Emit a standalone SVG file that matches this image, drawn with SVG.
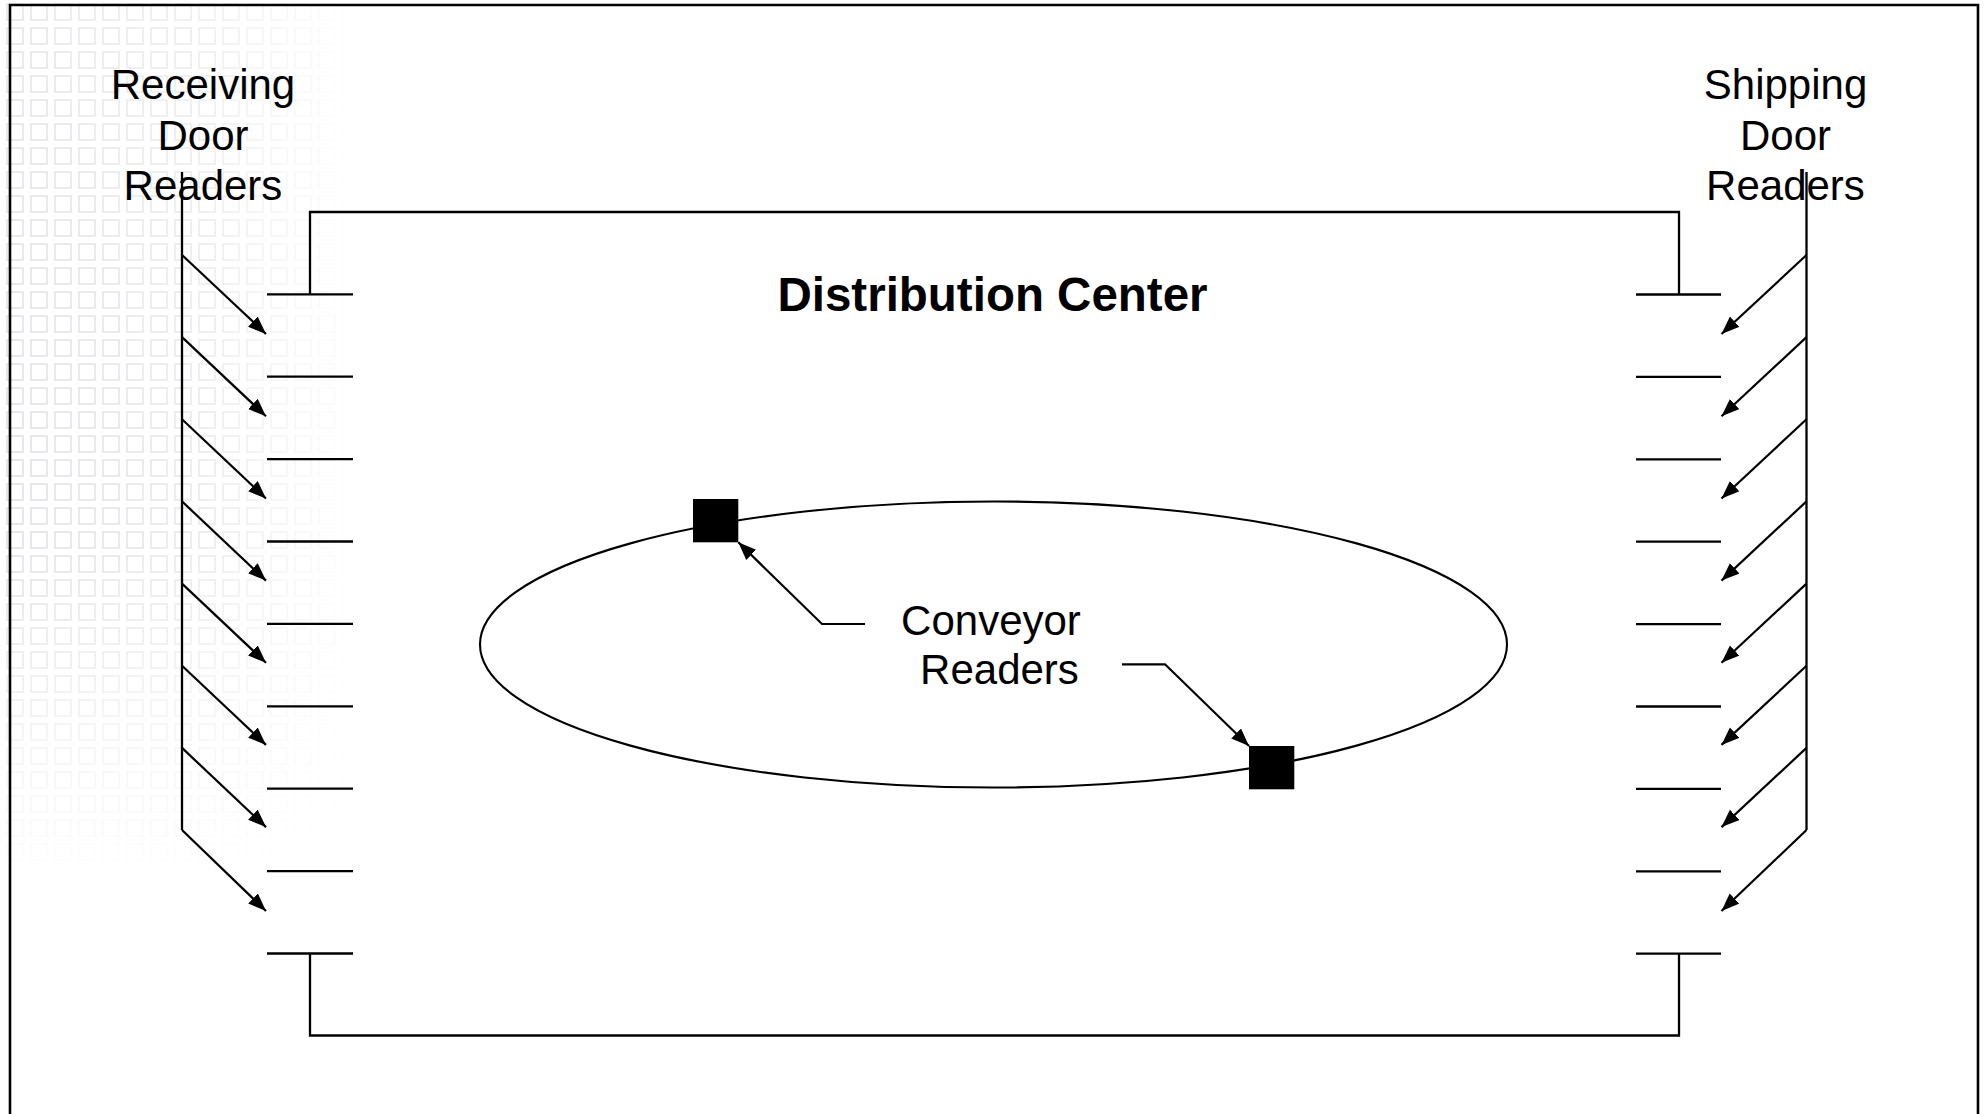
<svg xmlns="http://www.w3.org/2000/svg" width="1986" height="1114" viewBox="0 0 1986 1114">
  <style>
    .ln { fill: none; stroke: #000; stroke-width: 2.3; }
    .frame { fill: none; stroke: #000; stroke-width: 2.6; }
    .arr { fill: none; stroke: #000; stroke-width: 2.2; marker-end: url(#head); }
    .lbl { font-family: "Liberation Sans", Arial, sans-serif; font-size: 42px; fill: #000; text-anchor: middle; }
    .title { font-family: "Liberation Sans", Arial, sans-serif; font-size: 47.5px; font-weight: bold; fill: #000; text-anchor: middle; }
    .rdr { fill: #000; }
  </style>
  <defs>
    <marker id="head" markerUnits="userSpaceOnUse" markerWidth="20" markerHeight="16" refX="18" refY="7" orient="auto">
      <path d="M0,0 L18,7 L0,14 Z" fill="#000"/>
    </marker>
    <pattern id="tiles" x="0" y="0" width="24" height="24" patternUnits="userSpaceOnUse">
      <rect x="7" y="4" width="16" height="16" fill="none" stroke="#b4bac4" stroke-width="1.3"/>
    </pattern>
    <linearGradient id="fadeX" x1="0" y1="0" x2="1" y2="0">
      <stop offset="0" stop-color="#fff" stop-opacity="1"/>
      <stop offset="0.55" stop-color="#fff" stop-opacity="0.7"/>
      <stop offset="1" stop-color="#fff" stop-opacity="0"/>
    </linearGradient>
    <linearGradient id="fadeY" x1="0" y1="0" x2="0" y2="1">
      <stop offset="0" stop-color="#fff" stop-opacity="0.8"/>
      <stop offset="0.6" stop-color="#fff" stop-opacity="1"/>
      <stop offset="1" stop-color="#fff" stop-opacity="0"/>
    </linearGradient>
    <mask id="maskX" maskUnits="userSpaceOnUse" x="0" y="0" width="1986" height="1114">
      <rect x="0" y="0" width="360" height="900" fill="url(#fadeX)"/>
    </mask>
    <mask id="maskY" maskUnits="userSpaceOnUse" x="0" y="0" width="1986" height="1114">
      <rect x="0" y="0" width="360" height="890" fill="url(#fadeY)"/>
    </mask>
  </defs>

  <!-- page background with faint tile texture in the upper left -->
  <rect x="0" y="0" width="1986" height="1114" fill="#fff"/>
  <g id="texture" opacity="0.55" mask="url(#maskY)">
    <g mask="url(#maskX)">
      <rect x="0" y="0" width="360" height="890" fill="url(#tiles)"/>
    </g>
  </g>

  <!-- outer slide frame -->
  <path id="frame" class="frame" d="M10,1120 V5 H1978 V1120"/>

  <!-- building outline with dock doors -->
  <g id="building">
    <path class="ln" d="M310,294.3 V212 H1679 V294.3"/>
    <path class="ln" d="M310,953.5 V1035.5 H1679 V953.5"/>
  </g>

  <g id="receiving-doors" class="ln">
    <line x1="267" y1="294.3" x2="353" y2="294.3"/>
    <line x1="267" y1="376.7" x2="353" y2="376.7"/>
    <line x1="267" y1="459.1" x2="353" y2="459.1"/>
    <line x1="267" y1="541.5" x2="353" y2="541.5"/>
    <line x1="267" y1="623.9" x2="353" y2="623.9"/>
    <line x1="267" y1="706.3" x2="353" y2="706.3"/>
    <line x1="267" y1="788.7" x2="353" y2="788.7"/>
    <line x1="267" y1="871.1" x2="353" y2="871.1"/>
    <line x1="267" y1="953.5" x2="353" y2="953.5"/>
  </g>

  <g id="shipping-doors" class="ln">
    <line x1="1636" y1="294.5" x2="1721" y2="294.5"/>
    <line x1="1636" y1="376.9" x2="1721" y2="376.9"/>
    <line x1="1636" y1="459.3" x2="1721" y2="459.3"/>
    <line x1="1636" y1="541.7" x2="1721" y2="541.7"/>
    <line x1="1636" y1="624.1" x2="1721" y2="624.1"/>
    <line x1="1636" y1="706.5" x2="1721" y2="706.5"/>
    <line x1="1636" y1="788.9" x2="1721" y2="788.9"/>
    <line x1="1636" y1="871.3" x2="1721" y2="871.3"/>
    <line x1="1636" y1="953.7" x2="1721" y2="953.7"/>
  </g>

  <!-- conveyor loop -->
  <ellipse id="conveyor" cx="993.5" cy="644.5" rx="513.5" ry="143" fill="none" stroke="#000" stroke-width="2.1"/>

  <!-- reader nodes -->
  <g id="receiving-label">
    <text class="lbl" x="203" y="99">Receiving</text>
    <text class="lbl" x="203" y="150">Door</text>
    <text class="lbl" x="203" y="200">Readers</text>
  </g>
  <g id="shipping-label">
    <text class="lbl" x="1785.5" y="99">Shipping</text>
    <text class="lbl" x="1785.5" y="150">Door</text>
    <text class="lbl" x="1785.5" y="200">Readers</text>
  </g>
  <g id="title">
    <text class="title" x="992.5" y="311">Distribution Center</text>
  </g>
  <g id="conveyor-label">
    <text class="lbl" x="991" y="634.5">Conveyor</text>
    <text class="lbl" x="999.5" y="684">Readers</text>
  </g>
  <rect id="reader-a" class="rdr" x="693" y="499" width="45.3" height="43.3"/>
  <rect id="reader-b" class="rdr" x="1249" y="746" width="45.3" height="43.3"/>

  <!-- connectors -->
  <g id="connectors">
    <line class="ln" x1="182" y1="172" x2="182" y2="830"/>
    <line class="arr" x1="182" y1="255" x2="266" y2="334"/>
    <line class="arr" x1="182" y1="337.1" x2="266" y2="416.3"/>
    <line class="arr" x1="182" y1="419.3" x2="266" y2="498.5"/>
    <line class="arr" x1="182" y1="501.4" x2="266" y2="580.6"/>
    <line class="arr" x1="182" y1="583.6" x2="266" y2="662.8"/>
    <line class="arr" x1="182" y1="665.7" x2="266" y2="744.9"/>
    <line class="arr" x1="182" y1="747.9" x2="266" y2="827.1"/>
    <line class="arr" x1="182" y1="830" x2="266" y2="911"/>

    <line class="ln" x1="1806.5" y1="172" x2="1806.5" y2="830"/>
    <line class="arr" x1="1806.5" y1="255" x2="1721.5" y2="334"/>
    <line class="arr" x1="1806.5" y1="337.1" x2="1721.5" y2="416.3"/>
    <line class="arr" x1="1806.5" y1="419.3" x2="1721.5" y2="498.5"/>
    <line class="arr" x1="1806.5" y1="501.4" x2="1721.5" y2="580.6"/>
    <line class="arr" x1="1806.5" y1="583.6" x2="1721.5" y2="662.8"/>
    <line class="arr" x1="1806.5" y1="665.7" x2="1721.5" y2="744.9"/>
    <line class="arr" x1="1806.5" y1="747.9" x2="1721.5" y2="827.1"/>
    <line class="arr" x1="1806.5" y1="830" x2="1721.5" y2="911"/>

    <polyline class="arr" points="865,624 822,624 738.3,542.3"/>
    <polyline class="arr" points="1122,664.3 1165,664.3 1249,746"/>
  </g>
</svg>
